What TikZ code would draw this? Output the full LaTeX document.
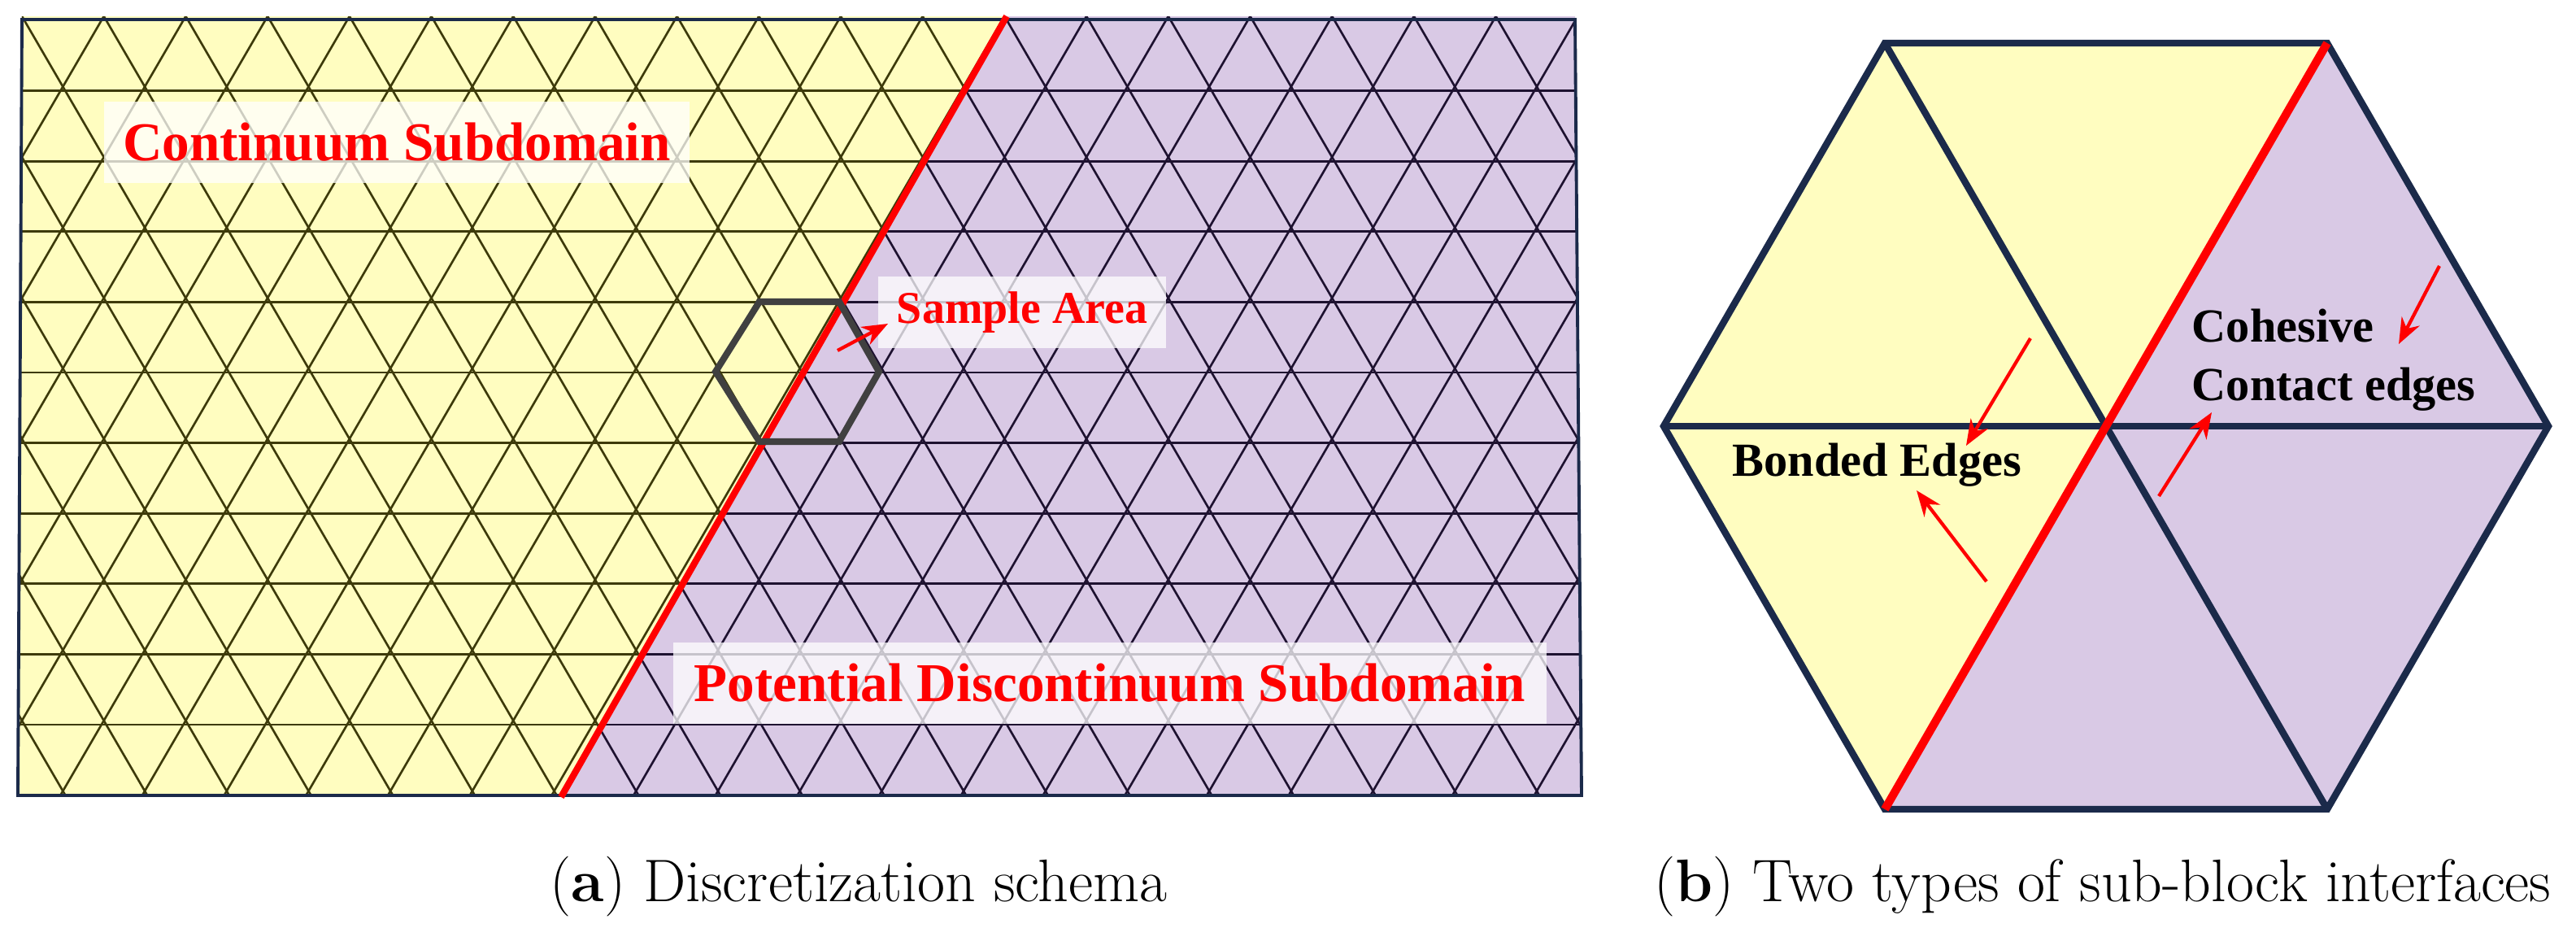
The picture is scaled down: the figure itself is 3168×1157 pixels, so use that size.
\documentclass[tikz,border=0pt]{standalone}
\usepackage{fontspec}
\newfontfamily\tnr{Liberation Serif}
\usetikzlibrary{arrows.meta}
\definecolor{yel}{HTML}{FFFDC0}
\definecolor{pur}{HTML}{D9C9E5}
\definecolor{ymesh}{HTML}{3D3A0A}
\definecolor{pmesh}{HTML}{1E1230}
\definecolor{navy}{HTML}{1B2A4A}
\definecolor{hexg}{HTML}{404040}
\newcommand\mymesh[1]{%
  \foreach \j in {0,...,11} \draw[#1] (0,{-(25+86.6*\j)}) -- (2000,{-(25+86.6*\j)});
  \foreach \k in {-8,...,27} {
    \draw[#1] ({27+100.7*\k},-20) -- ++({50.35*12},{-86.6*12});
    \draw[#1] ({27+100.7*\k},-20) -- ++({-50.35*12},{-86.6*12});
  }}
\tikzset{
  lbl/.style={fill=white, fill opacity=0.75, text opacity=1, text=red, inner sep=0pt, font=\tnr\bfseries},
  ymeshline/.style={ymesh, line width=0.75pt},
  pmeshline/.style={pmesh, line width=0.75pt},
  redarr/.style={red, line width=1.2pt, -{Stealth[length=9pt,width=7pt]}},
  hexline/.style={navy, line width=2.4pt},
  captxt/.style={font=\fontsize{21}{25}\selectfont, anchor=base}
}
\begin{document}
\begin{tikzpicture}[x=0.01cm,y=0.01cm]
\useasboundingbox (0,0) rectangle (3168,-1157);
% panel (a)
\begin{scope}
\clip (27,-20)--(1236,-20)--(692,-978)--(22,-978)--cycle;
\fill[yel] (0,0) rectangle (2000,-1000);
\mymesh{ymeshline}
\end{scope}
\begin{scope}
\clip (1236,-20)--(1937,-20)--(1945,-978)--(692,-978)--cycle;
\fill[pur] (0,0) rectangle (2000,-1000);
\mymesh{pmeshline}
\end{scope}
\draw[navy, line width=1.1pt] (27,-24)--(1937,-24)--(1945,-978)--(22,-978)--cycle;
\coordinate (rt) at (1238,-20);
\coordinate (rb) at (690,-980);
\draw[red, line width=2.3pt] (rt) -- (rb);
\draw[hexg, line width=2.3pt] (934,-371)--(1032,-371)--(1081,-457)--(1032,-543)--(934,-543)--(880,-457)--cycle;
\node[lbl, minimum width=7.2cm, minimum height=0.99cm, font=\tnr\bfseries\fontsize{19.1}{22}\selectfont] (cont) at (488,-175) {Continuum Subdomain};
\node[lbl, minimum width=3.54cm, minimum height=0.88cm, font=\tnr\bfseries\fontsize{15.9}{18}\selectfont] (samp) at (1257,-384) {Sample Area};
\node[lbl, minimum width=10.73cm, minimum height=0.99cm, font=\tnr\bfseries\fontsize{19.1}{22}\selectfont] (pot) at (1365,-840) {Potential Discontinuum Subdomain};
\coordinate (sa0) at (1030,-431);
\coordinate (sa1) at (1092,-398);
\draw[redarr] (sa0) -- (sa1);
\node[captxt] (capa) at (1056,-1108) {(\textbf{a}) Discretization schema};
% panel (b)
\coordinate (C) at (2590,-524);
\coordinate (L) at (2046,-524);
\coordinate (R) at (3134,-524);
\coordinate (TL) at (2318,-53);
\coordinate (TR) at (2862,-53);
\coordinate (BL) at (2318,-995);
\coordinate (BR) at (2862,-995);
\fill[yel] (TL)--(TR)--(C)--cycle;
\fill[yel] (L)--(TL)--(C)--cycle;
\fill[yel] (L)--(C)--(BL)--cycle;
\fill[pur] (TR)--(R)--(C)--cycle;
\fill[pur] (R)--(BR)--(C)--cycle;
\fill[pur] (C)--(BR)--(BL)--cycle;
\draw[hexline, line join=miter] (L)--(TL)--(TR)--(R)--(BR)--(BL)--cycle;
\draw[hexline] (L)--(R);
\draw[hexline] (TL)--(BR);
\draw[red, line width=2.9pt] (TR)--(BL);
\node[anchor=base west, inner sep=0pt, font=\tnr\bfseries\fontsize{16.6}{20}\selectfont] (bond) at (2130,-585) {Bonded Edges};
\node[anchor=base west, inner sep=0pt, font=\tnr\bfseries\fontsize{16.6}{20}\selectfont] (coh) at (2695,-420) {Cohesive};
\node[anchor=base west, inner sep=0pt, font=\tnr\bfseries\fontsize{16.6}{20}\selectfont] (cont2) at (2695,-492) {Contact edges};
\coordinate (a1s) at (2497,-416); \coordinate (a1e) at (2418,-548);
\coordinate (a2s) at (2443,-715); \coordinate (a2e) at (2357,-603);
\coordinate (a3s) at (3000,-327); \coordinate (a3e) at (2950,-423);
\coordinate (a4s) at (2655,-610); \coordinate (a4e) at (2720,-507);
\draw[redarr] (a1s) -- (a1e);
\draw[redarr] (a2s) -- (a2e);
\draw[redarr] (a3s) -- (a3e);
\draw[redarr] (a4s) -- (a4e);
\node[captxt] (capb) at (2586,-1108) {(\textbf{b}) Two types of sub-block interfaces};
\end{tikzpicture}
\end{document}
